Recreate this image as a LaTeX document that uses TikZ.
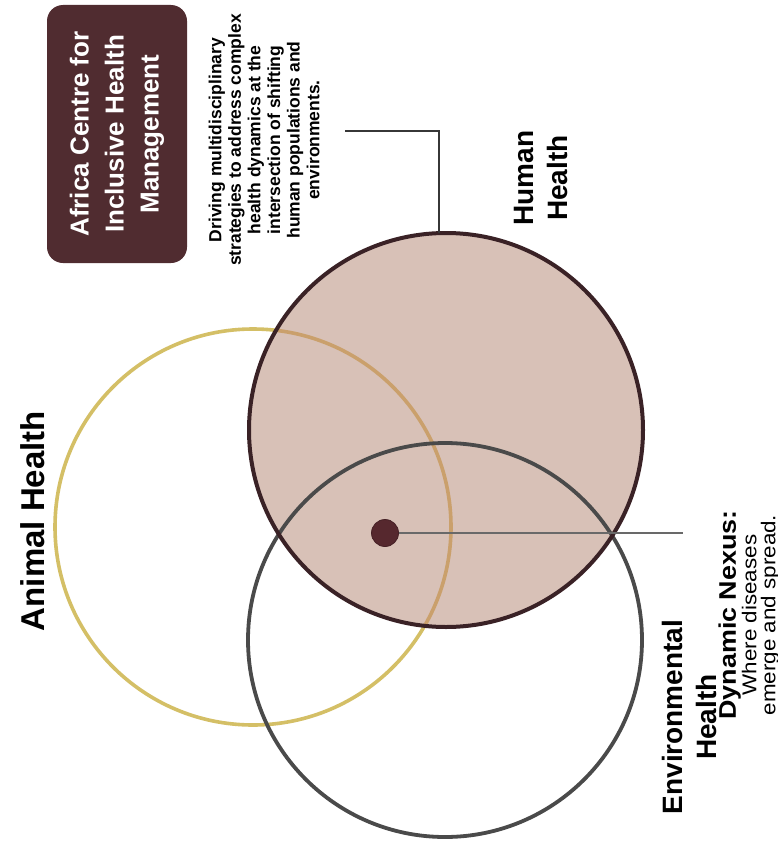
\documentclass[tikz,border=0pt]{standalone}
\usepackage{fontspec}
\setmainfont{Liberation Sans}
\newfontfamily\widesans{Liberation Sans}[FakeStretch=1.12]
\definecolor{humanfill}{RGB}{216,193,183}
\definecolor{humanedge}{RGB}{58,34,38}
\definecolor{animalcol}{RGB}{212,191,102}
\definecolor{animalin}{RGB}{202,160,108}
\definecolor{envcol}{RGB}{74,74,74}
\definecolor{boxcol}{RGB}{80,44,48}
\definecolor{dotcol}{RGB}{86,40,46}
\definecolor{leadcol}{RGB}{55,55,55}
\definecolor{nexcol}{RGB}{105,105,105}
\begin{document}
\begin{tikzpicture}[x=1pt,y=-1pt,
  ring/.style={circle, inner sep=0, minimum size=394},
  biglabel/.style={font=\bfseries\fontsize{28}{34}\selectfont, align=center, rotate=90, inner sep=0},
  boxtext/.style={font=\bfseries\fontsize{26}{35}\selectfont, text=white, align=center, rotate=90, inner sep=0},
  desctext/.style={font=\bfseries\fontsize{17.5}{19.6}\selectfont, align=center, rotate=90, inner sep=0},
  nextext/.style={font=\widesans\fontsize{20}{19}\selectfont, align=center, rotate=90, inner sep=0},
  leader/.style={draw=leadcol, line width=1.6},
  nexline/.style={draw=nexcol, line width=2.4}
]
\useasboundingbox (0,0) rectangle (778,843);
\fill[white] (0,0) rectangle (778,843);

% title box
\node[fill=boxcol, rounded corners=16, minimum width=140, minimum height=258, inner sep=0] (box) at (117,134) {};
\node[boxtext] (boxlbl) at (117,134) {Africa Centre for\\Inclusive Health\\Management};

% description
\node[desctext] (desc) at (264,140) {Driving multidisciplinary\\strategies to address complex\\health dynamics at the\\intersection of shifting\\human populations and\\environments.};

% circles
\draw[animalcol, line width=3.6] (253,527) circle[radius=198];
\node[ring, fill=humanfill] (human) at (446,430) {};
\begin{scope}
  \clip (446,430) circle[radius=197];
  \draw[animalin, line width=3.6] (253,527) circle[radius=198];
\end{scope}
\node[ring, draw=envcol, line width=3.8, minimum size=394] (env) at (445,640) {};
\draw[humanedge, line width=4] (446,430) circle[radius=197];

% leader to human
\coordinate (ldr) at (345,131);
\draw[leader] (ldr) -| (human.92);

% nexus
\coordinate (nexend) at (683,533);
\node[circle, fill=dotcol, draw=dotcol!80!black, line width=0.8, minimum size=27, inner sep=0] (nexus) at (385,533) {};
\draw[nexline] (nexus) -- (nexend);

% labels
\node[biglabel] (humanlbl) at (541,178) {Human\\Health};
\node[biglabel, font=\bfseries\fontsize{33}{36}\selectfont] (animallbl) at (33,521) {Animal Health};
\node[biglabel] (envlbl) at (689,717) {Environmental\\Health};
\node[nextext] (nexlbl) at (749,615)
  {{\bfseries\fontsize{24}{19}\selectfont Dynamic Nexus:}\\
   Where diseases\\
   emerge and spread.};
\end{tikzpicture}
\end{document}
